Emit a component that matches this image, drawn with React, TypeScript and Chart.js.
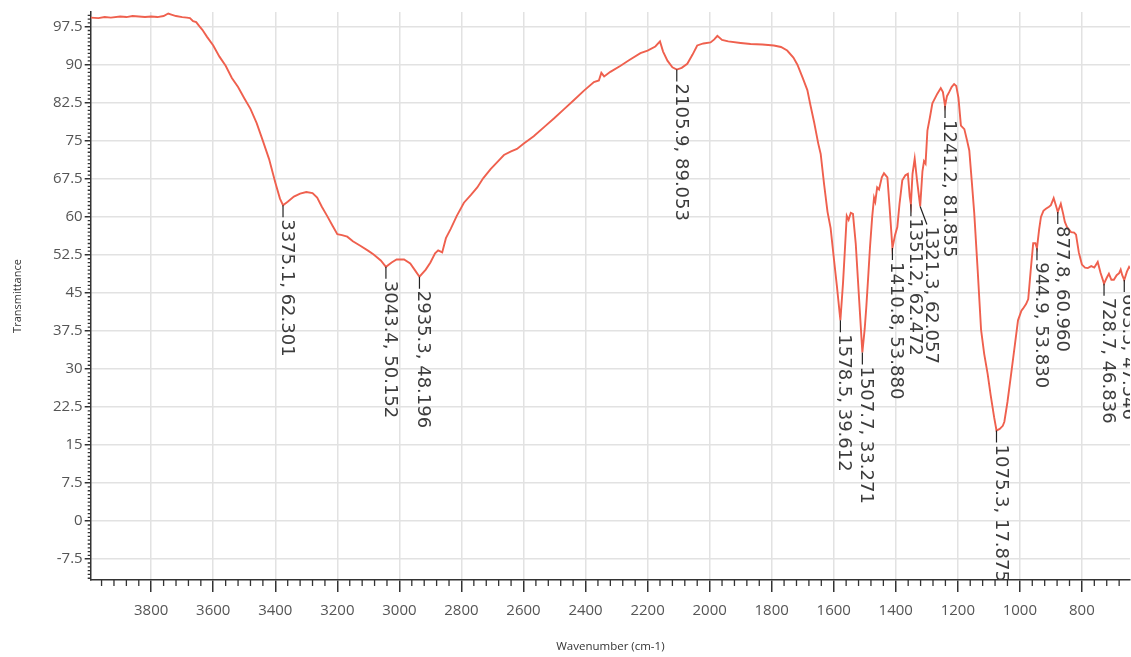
import { useEffect, useRef } from 'react';
import { Chart, registerables } from 'chart.js';

Chart.register(...registerables);

const wavenumbers = [
  3995, 3970, 3950, 3930, 3900, 3880, 3860, 3840, 3820, 3800, 3780, 3760, 3745, 3735, 3720, 3700, 3685, 3675,
  3665, 3655, 3645, 3635, 3620, 3600, 3580, 3560, 3540, 3520, 3500, 3480, 3460, 3440, 3420, 3400, 3385, 3375.1,
  3360, 3340, 3320, 3300, 3280, 3265, 3250, 3233, 3215, 3200, 3185, 3168, 3150, 3126, 3100, 3083, 3060, 3043.4,
  3025, 3009, 2985, 2965, 2950, 2935.3, 2915, 2900, 2885, 2875, 2862, 2850, 2835, 2815, 2792, 2770, 2749, 2730,
  2706, 2680, 2663, 2640, 2621, 2600, 2567, 2530, 2502, 2470, 2438, 2405, 2373, 2357, 2349, 2340, 2320, 2287,
  2260, 2223, 2200, 2175, 2160, 2150, 2136, 2120, 2105.9, 2090, 2072, 2055, 2040, 2020, 1997, 1985, 1975, 1960,
  1940, 1900, 1868, 1830, 1793, 1770, 1750, 1730, 1717, 1700, 1685, 1675, 1663, 1650, 1642, 1631, 1620, 1610,
  1599, 1590, 1585, 1578.5, 1570, 1564, 1558, 1552, 1545, 1538, 1529, 1518, 1507.7, 1500, 1495, 1488, 1483, 1476,
  1470, 1466, 1460, 1454, 1445, 1438, 1427, 1420, 1410.8, 1402, 1395, 1388, 1379, 1369, 1361, 1355, 1351.2, 1346,
  1339, 1332, 1321.3, 1314, 1309, 1304, 1298, 1290, 1282, 1266, 1255, 1248, 1241.2, 1235, 1228, 1220, 1212, 1205,
  1198, 1190, 1179, 1170, 1163, 1155, 1147, 1136, 1125, 1115, 1104, 1094, 1083, 1075.3, 1065, 1055, 1050, 1040,
  1028, 1016, 1006, 995, 990, 980, 973, 965, 957, 950, 944.9, 938, 932, 924, 916, 906, 900, 891, 884, 877.8, 868,
  860, 855, 848, 835, 825, 819, 810, 800, 790, 781, 770, 760, 749, 740, 728.7, 720, 713, 705, 697, 688, 680, 675,
  670, 663.5, 655, 648, 645,
];

const transmittance = [
  99.3, 99.2, 99.4, 99.3, 99.5, 99.4, 99.6, 99.5, 99.4, 99.5, 99.4, 99.6, 100.1, 99.9, 99.6, 99.4, 99.3, 99.2,
  98.6, 98.4, 97.6, 96.9, 95.5, 93.8, 91.6, 89.8, 87.4, 85.6, 83.4, 81.3, 78.5, 75.0, 71.4, 66.8, 63.6, 62.301,
  63.0, 64.0, 64.6, 64.9, 64.7, 63.8, 62.0, 60.2, 58.2, 56.6, 56.4, 56.1, 55.2, 54.3, 53.3, 52.6, 51.4, 50.152,
  51.0, 51.6, 51.6, 50.8, 49.5, 48.196, 49.6, 51.0, 52.8, 53.4, 53.0, 55.8, 57.6, 60.2, 62.8, 64.3, 65.8, 67.6,
  69.4, 71.1, 72.2, 72.9, 73.4, 74.4, 75.9, 77.9, 79.4, 81.2, 83.0, 84.9, 86.6, 86.9, 88.4, 87.7, 88.6, 89.8,
  90.9, 92.3, 92.8, 93.6, 94.6, 92.6, 90.8, 89.5, 89.053, 89.4, 90.2, 92.0, 93.8, 94.2, 94.4, 95.0, 95.7, 94.9,
  94.6, 94.3, 94.1, 94.0, 93.8, 93.5, 92.8, 91.4, 90.0, 87.4, 85.0, 82.0, 78.6, 74.5, 72.4, 66.4, 61.0, 57.8,
  51.5, 46.5, 43.5, 39.612, 47.0, 53.5, 60.2, 59.4, 60.8, 60.6, 54.7, 43.6, 33.271, 38.0, 42.2, 49.0, 54.1, 60.0,
  63.8, 63.0, 65.8, 65.4, 67.8, 68.6, 67.8, 62.0, 53.88, 56.5, 58.0, 62.5, 67.2, 68.2, 68.5, 64.0, 62.472, 68.5,
  71.5, 67.5, 62.057, 69.0, 71.0, 70.5, 77.0, 79.6, 82.4, 84.3, 85.4, 84.6, 81.855, 83.8, 84.6, 85.6, 86.2, 85.8,
  83.5, 78.0, 77.3, 75.0, 73.1, 67.0, 60.7, 49.5, 37.7, 33.0, 29.1, 24.8, 20.5, 17.875, 18.2, 18.8, 19.6, 23.5,
  29.1, 34.8, 39.6, 41.5, 41.9, 42.8, 43.8, 49.5, 54.8, 54.8, 53.83, 57.5, 60.0, 61.2, 61.6, 62.0, 62.3, 63.7, 62.3,
  60.96, 62.6, 60.5, 59.0, 58.0, 57.0, 56.9, 56.5, 53.0, 50.6, 50.0, 49.9, 50.3, 50.0, 51.1, 49.0, 46.836, 48.0,
  48.8, 47.6, 47.6, 48.5, 48.9, 49.6, 48.5, 47.546, 49.2, 50.1, 49.8,
];

const peakWavenumbers = [3375.1, 3043.4, 2935.3, 2105.9, 1578.5, 1507.7, 1410.8, 1351.2, 1321.3, 1241.2, 1075.3, 944.9, 877.8, 728.7, 663.5];
const peakTransmittance = [62.301, 50.152, 48.196, 89.053, 39.612, 33.271, 53.88, 62.472, 62.057, 81.855, 17.875, 53.83, 60.96, 46.836, 47.546];

const xTickValues = [3800, 3600, 3400, 3200, 3000, 2800, 2600, 2400, 2200, 2000, 1800, 1600, 1400, 1200, 1000, 800];
const yTickValues = [-7.5, 0, 7.5, 15, 22.5, 30, 37.5, 45, 52.5, 60, 67.5, 75, 82.5, 90, 97.5];
const xMinorStep = 40;
const yMinorStep = 0.75;
const xLimits = [645, 3995];
const yLimits = [-11.6, 100.4];

const xTitle = 'Wavenumber (cm-1)';
const yTitle = 'Transmittance';

const overlayPlugin = {
  id: 'overlay',
  afterDatasetsDraw(chart: any) {
    const { ctx, chartArea: a, scales } = chart;
    const xs = scales.x;
    const ys = scales.y;
    ctx.save();
    ctx.beginPath();
    ctx.rect(a.left, a.top, a.right - a.left, a.bottom - a.top);
    ctx.clip();
    ctx.font = '18px "DejaVu Sans"';
    const items = peakWavenumbers.map((w, i) => ({
      px: xs.getPixelForValue(w),
      py: ys.getPixelForValue(peakTransmittance[i]),
      text: `${w.toFixed(1)}, ${peakTransmittance[i].toFixed(3)}`,
    }));
    items.sort((p, q) => p.px - q.px);
    let prev = -Infinity;
    for (const it of items) {
      let lx = it.px;
      if (lx - prev < 15) lx = prev + 16;
      prev = lx;
      const shifted = lx !== it.px;
      ctx.strokeStyle = '#222';
      ctx.lineWidth = 1.2;
      ctx.beginPath();
      ctx.moveTo(it.px, it.py);
      ctx.lineTo(lx, it.py + (shifted ? 18 : 12));
      ctx.stroke();
      ctx.save();
      ctx.translate(lx - 1, it.py + (shifted ? 20 : 14));
      ctx.rotate(Math.PI / 2);
      ctx.textAlign = 'left';
      ctx.textBaseline = 'alphabetic';
      ctx.fillStyle = '#3c3c3c';
      ctx.fillText(it.text, 0, 0);
      ctx.restore();
    }
    ctx.restore();
  },
  afterDraw(chart: any) {
    const { ctx, chartArea: a, scales } = chart;
    const xs = scales.x;
    const ys = scales.y;
    ctx.save();
    ctx.strokeStyle = '#333';
    ctx.lineWidth = 1.3;
    ctx.beginPath();
    const x0 = Math.ceil(xLimits[0] / xMinorStep) * xMinorStep;
    for (let v = x0; v <= xLimits[1]; v += xMinorStep) {
      if (v % 200 === 0) continue;
      const p = xs.getPixelForValue(v);
      ctx.moveTo(p, a.bottom);
      ctx.lineTo(p, a.bottom + 6);
    }
    const n0 = Math.ceil(yLimits[0] / yMinorStep);
    const n1 = Math.floor(yLimits[1] / yMinorStep);
    for (let n = n0; n <= n1; n++) {
      if (n % 10 === 0) continue;
      const p = ys.getPixelForValue(n * yMinorStep);
      ctx.moveTo(a.left - 3, p);
      ctx.lineTo(a.left, p);
    }
    ctx.stroke();

    ctx.fillStyle = '#333';
    ctx.font = '11.5px "Open Sans"';
    ctx.textAlign = 'center';
    ctx.textBaseline = 'middle';
    ctx.fillText(xTitle, (a.left + a.right) / 2, 647);
    ctx.save();
    ctx.translate(18, (a.top + a.bottom) / 2);
    ctx.rotate(-Math.PI / 2);
    ctx.font = '11px "Open Sans"';
    ctx.fillText(yTitle, 0, 0);
    ctx.restore();
    ctx.restore();
  },
};

export default function App() {
  const ref = useRef<HTMLCanvasElement | null>(null);
  useEffect(() => {
    if (!ref.current) return;
    const points = wavenumbers.map((w, i) => ({ x: w, y: transmittance[i] }));
    const chart = new Chart(ref.current, {
      type: 'line',
      data: {
        datasets: [
          {
            data: points,
            borderColor: '#ef604e',
            borderWidth: 1.9,
            pointRadius: 0,
            tension: 0,
            fill: false,
          },
        ],
      },
      options: {
        animation: false,
        responsive: true,
        maintainAspectRatio: false,
        layout: { padding: { top: 12, right: 1, left: 0, bottom: 0 } },
        plugins: { legend: { display: false }, tooltip: { enabled: false }, title: { display: false } },
        scales: {
          x: {
            type: 'linear',
            reverse: true,
            min: xLimits[0],
            max: xLimits[1],
            afterBuildTicks: (s: any) => {
              s.ticks = xTickValues.map((v) => ({ value: v }));
            },
            afterFit: (s: any) => {
              s.height = 77;
            },
            grid: { color: '#e2e2e2', lineWidth: 1.5, drawTicks: true, tickLength: 12, tickColor: '#333', tickWidth: 1.5 },
            border: { display: true, color: '#333', width: 1.5 },
            ticks: {
              color: '#555',
              font: { family: 'Open Sans', size: 15 },
              padding: 10,
              maxRotation: 0,
              autoSkip: false,
              callback: (v: any) => String(v),
            },
          },
          y: {
            type: 'linear',
            min: yLimits[0],
            max: yLimits[1],
            afterBuildTicks: (s: any) => {
              s.ticks = yTickValues.map((v) => ({ value: v }));
            },
            afterFit: (s: any) => {
              s.width = 90.7;
            },
            grid: { color: '#e2e2e2', lineWidth: 1.5, drawTicks: true, tickLength: 6, tickColor: '#333', tickWidth: 1.5 },
            border: { display: true, color: '#333', width: 1.5 },
            ticks: {
              color: '#555',
              font: { family: 'Open Sans', size: 15 },
              padding: 2,
              autoSkip: false,
              callback: (v: any) => String(v),
            },
          },
        },
      },
      plugins: [overlayPlugin],
    });
    return () => chart.destroy();
  }, []);
  return (
    <div style={{ position: 'fixed', left: 0, top: 0, width: 1131, height: 657, background: '#fff' }}>
      <canvas ref={ref} />
    </div>
  );
}
